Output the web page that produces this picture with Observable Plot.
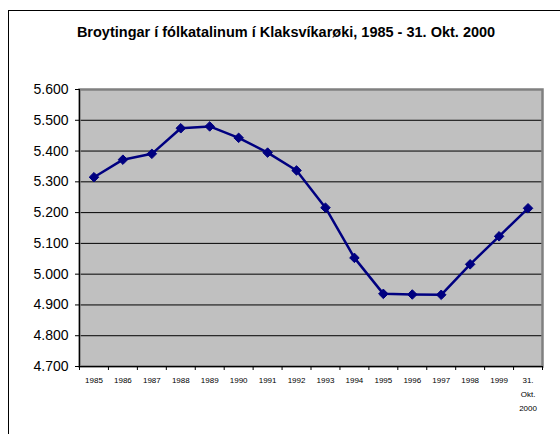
<!DOCTYPE html>
<html>
<head>
<meta charset="utf-8">
<script src="https://cdn.jsdelivr.net/npm/d3@7"></script>
<script src="https://cdn.jsdelivr.net/npm/@observablehq/plot@0.6"></script>
<style>
  html, body { margin: 0; padding: 0; background: #fff; }
  #wrap { position: relative; width: 560px; height: 434px; overflow: hidden; }
  #border { position: absolute; left: 8px; top: 10px; width: 600px; height: 500px; border: 1px solid #000; box-sizing: border-box; pointer-events: none; }
</style>
</head>
<body>
<div id="wrap"><div id="border"></div></div>
<script>
const title = "Broytingar í fólkatalinum í Klaksvíkarøki, 1985 - 31. Okt. 2000";
const years = ["1985","1986","1987","1988","1989","1990","1991","1992","1993","1994","1995","1996","1997","1998","1999","2000"];
const yearLabels = ["1985","1986","1987","1988","1989","1990","1991","1992","1993","1994","1995","1996","1997","1998","1999","31.\nOkt.\n2000"];
const population = [5315, 5372, 5391, 5474, 5480, 5443, 5395, 5337, 5216, 5053, 4936, 4934, 4933, 5032, 5123, 5214];
const yTicks = [4700, 4800, 4900, 5000, 5100, 5200, 5300, 5400, 5500, 5600];

const data = years.map((y, i) => ({year: y, value: population[i]}));
const labelOf = new Map(years.map((y, i) => [y, yearLabels[i]]));

const W = 560, H = 434, mL = 79, mR = 18, mT = 89, mB = 68;
const bw = (W - mL - mR) / years.length;
const fmt = d => d3.format(",")(d).replace(/,/g, ".");

const chart = Plot.plot({
  width: W, height: H,
  marginLeft: mL, marginRight: mR, marginTop: mT, marginBottom: mB,
  style: {fontFamily: "Liberation Sans, Arial, sans-serif", background: "transparent", overflow: "visible"},
  x: {type: "band", domain: years, padding: 0, round: false, axis: null, label: null},
  y: {domain: [4700, 5600], axis: null, label: null},
  marks: [
    Plot.frame({fill: "#c0c0c0", stroke: "none"}),
    Plot.ruleY(yTicks.slice(1, -1), {stroke: "#000", strokeWidth: 1}),
    Plot.frame({stroke: "#808080", strokeWidth: 2.5}),
    Plot.ruleY([4700], {stroke: "#000", strokeWidth: 1}),
    Plot.ruleX([years[0]], {y1: 4700, y2: 5600, dx: -bw / 2, stroke: "#000"}),
    Plot.axisY({ticks: yTicks, tickSize: 4, tickPadding: 7, tickFormat: fmt, fontSize: 14, stroke: "#000", color: "#000", label: null}),
    Plot.axisX({ticks: years, tickSize: 4, tickFormat: () => "", dx: -bw / 2, stroke: "#000", label: null}),
    Plot.axisX({ticks: [years[years.length - 1]], tickSize: 4, tickFormat: () => "", dx: bw / 2, stroke: "#000", label: null}),
    Plot.axisX({ticks: years, tickSize: 0, tickPadding: 7, tickFormat: d => labelOf.get(d), fontSize: 8, lineHeight: 1.75, color: "#000", label: null}),
    Plot.line(data, {x: "year", y: "value", stroke: "#000080", strokeWidth: 2.5}),
    Plot.dot(data, {x: "year", y: "value", symbol: "diamond2", r: 4.3, fill: "#000080", stroke: "#000080", strokeWidth: 1}),
    Plot.text([title], {frameAnchor: "top", dy: -63, dx: -25, fontSize: 14.5, fontWeight: "bold", fill: "#000"})
  ]
});
document.getElementById("wrap").prepend(chart);
</script>
</body>
</html>
